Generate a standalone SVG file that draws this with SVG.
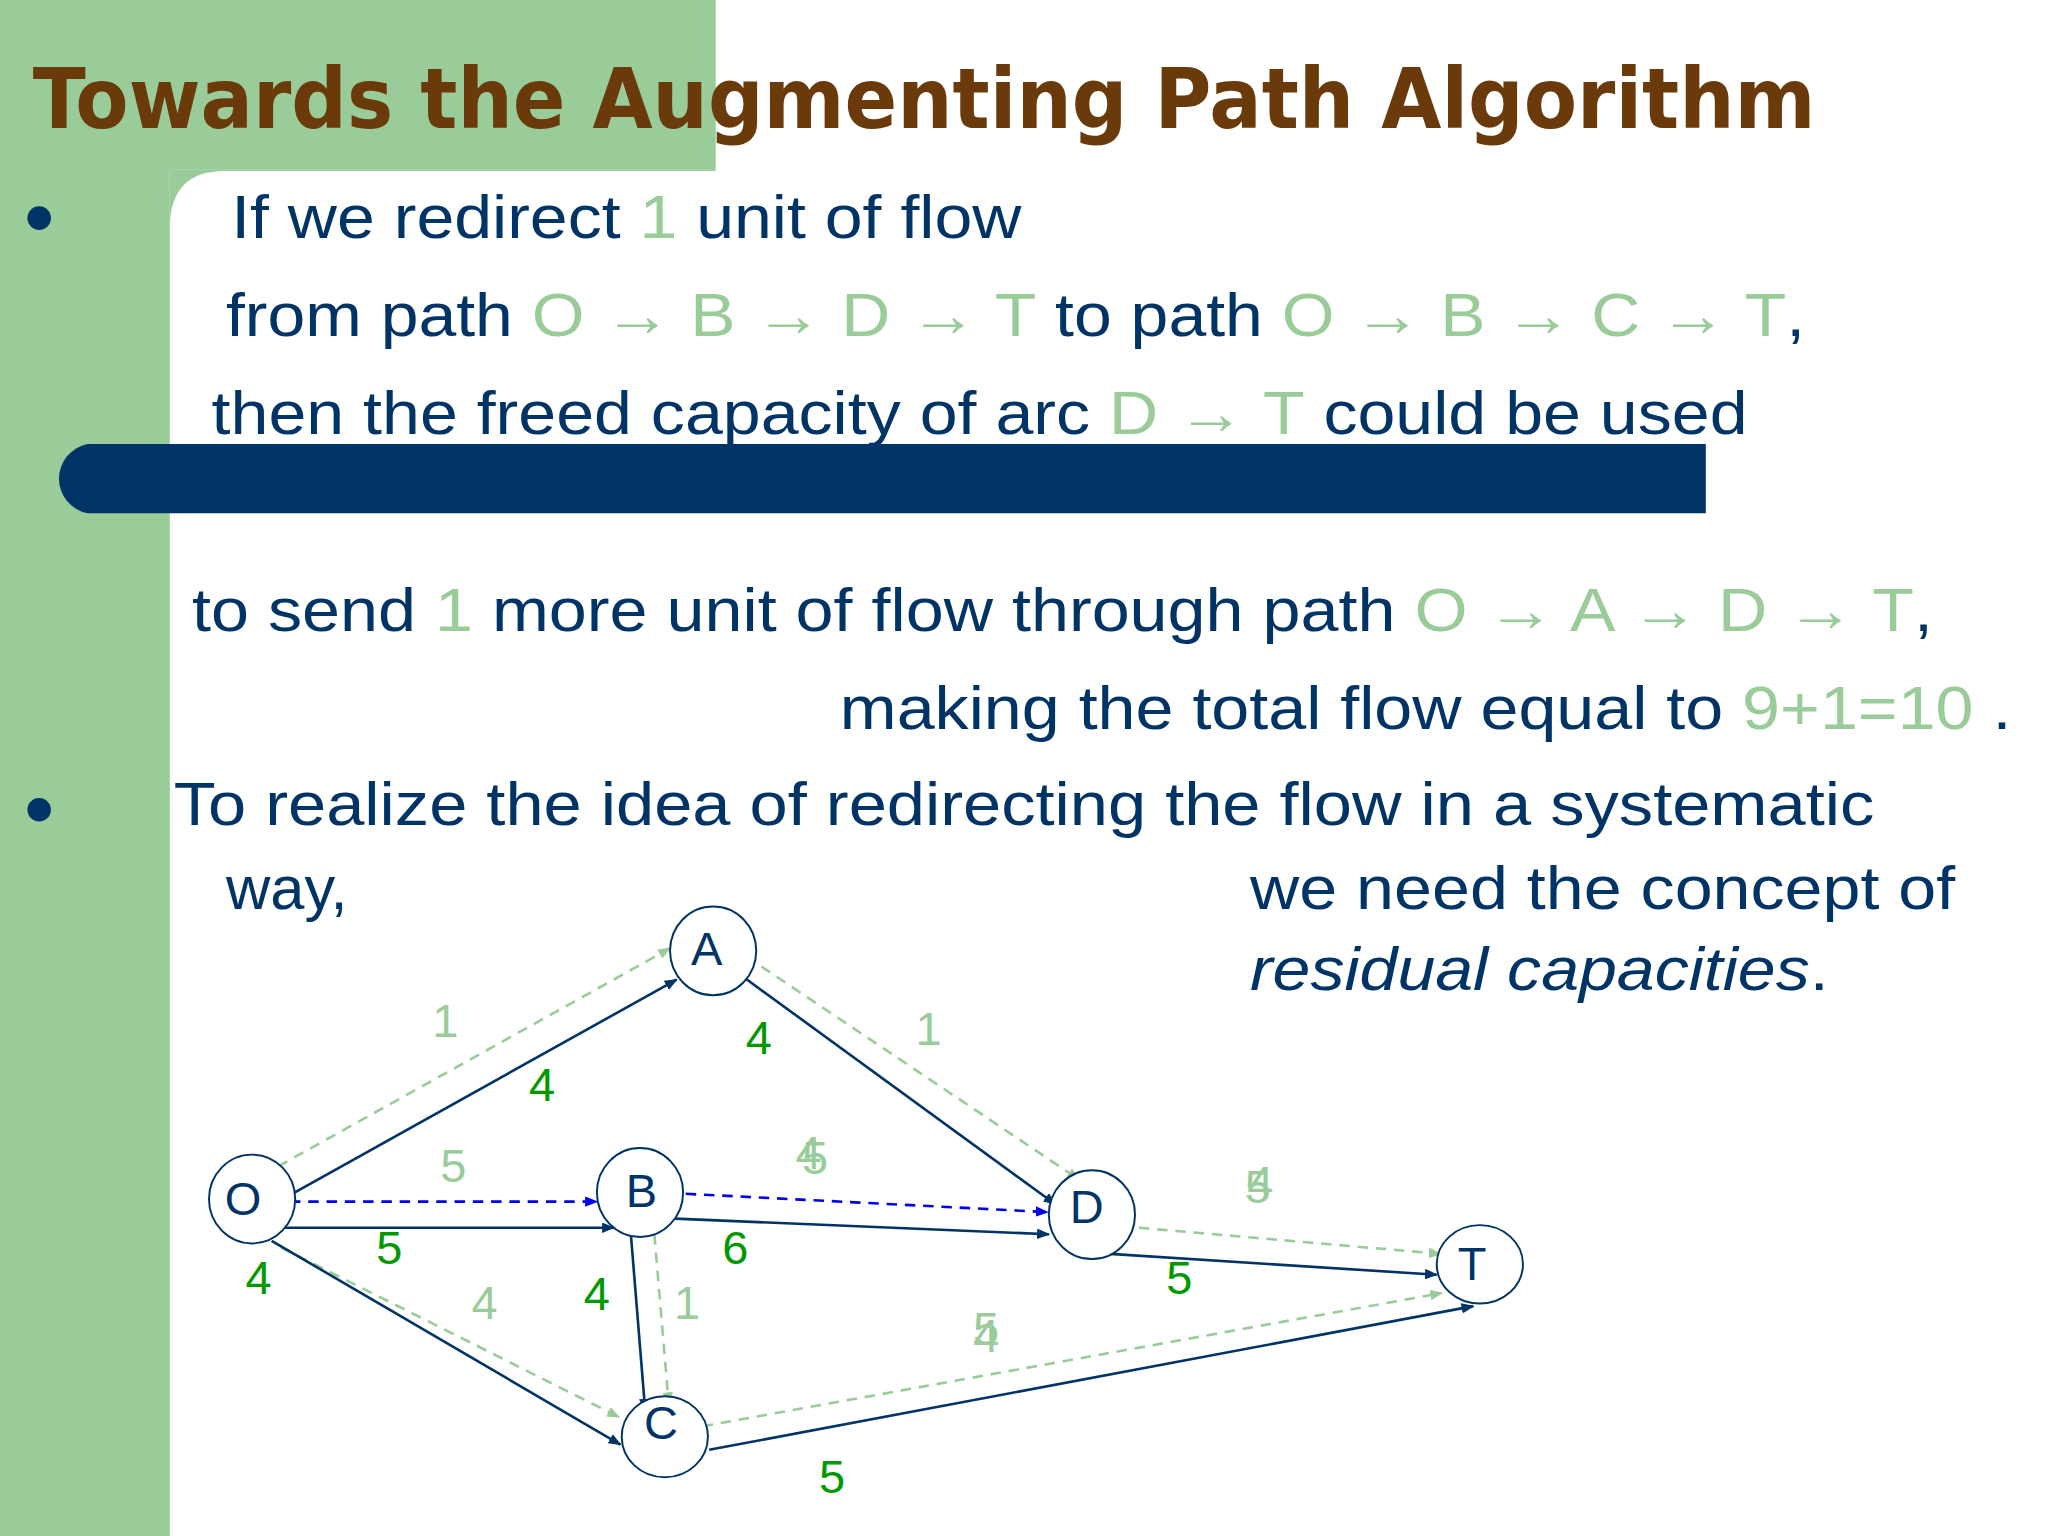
<svg xmlns="http://www.w3.org/2000/svg" width="2048" height="1536" viewBox="0 0 2048 1536">
<style>
.t{font-family:"Liberation Sans",Arial,sans-serif;font-size:47px;fill:#003366}
.g{fill:#99CC99}
.nl{font-family:"Liberation Sans",Arial,sans-serif;font-size:36px;fill:#003366;text-anchor:middle}
.dl{font-family:"Liberation Sans",Arial,sans-serif;font-size:36px;fill:#009900;text-anchor:middle}
.ll{font-family:"Liberation Sans",Arial,sans-serif;font-size:36px;fill:#99CC99;text-anchor:middle}
.s{stroke:#003366;stroke-width:2;fill:none;marker-end:url(#an)}
.gd{stroke:#99CC99;stroke-width:2;stroke-dasharray:8,6;fill:none;marker-end:url(#ag)}
.bd{stroke:#0000EE;stroke-width:2;stroke-dasharray:8,6;fill:none;marker-end:url(#ab)}
.n{fill:#fff;stroke:#003366;stroke-width:1.5}
</style>
<defs>
<marker id="an" markerWidth="10" markerHeight="8" refX="9" refY="4" orient="auto" markerUnits="userSpaceOnUse"><path d="M0,0L10,4L0,8z" fill="#003366"/></marker>
<marker id="ag" markerWidth="10" markerHeight="8" refX="9" refY="4" orient="auto" markerUnits="userSpaceOnUse"><path d="M0,0L10,4L0,8z" fill="#99CC99"/></marker>
<marker id="ab" markerWidth="10" markerHeight="8" refX="9" refY="4" orient="auto" markerUnits="userSpaceOnUse"><path d="M0,0L10,4L0,8z" fill="#0000EE"/></marker>
</defs>
<rect width="2048" height="1536" fill="#fff"/>
<g transform="scale(1.30612)">
<rect x="0" y="0" width="130" height="1176" fill="#99CC99"/>
<rect x="0" y="0" width="548" height="130" fill="#99CC99"/>
<path d="M130,130 H548 V131 H172 Q130,131 130,175 Z" fill="#99CC99"/>
<text x="25" y="98" font-family="'DejaVu Sans',sans-serif" font-weight="bold" font-size="64" fill="#6B3A0A" textLength="1365" lengthAdjust="spacingAndGlyphs">Towards the Augmenting Path Algorithm</text>
<circle cx="30" cy="167" r="9" fill="#003366"/>
<circle cx="30" cy="620" r="9" fill="#003366"/>
<text class="t" x="177" y="182" textLength="605" lengthAdjust="spacingAndGlyphs">If we redirect <tspan class="g">1</tspan> unit of flow</text>
<text class="t" x="173" y="257" textLength="1209" lengthAdjust="spacingAndGlyphs">from path <tspan class="g">O → B → D → T</tspan> to path <tspan class="g">O → B → C → T</tspan>,</text>
<text class="t" x="162" y="332" textLength="1176" lengthAdjust="spacingAndGlyphs">then the freed capacity of arc <tspan class="g">D → T</tspan> could be used</text>
<path d="M67,340 H1306 V393 H67 A27,27 0 0 1 67,340 Z" fill="#003366"/>
<text class="t" x="147" y="483" textLength="1333" lengthAdjust="spacingAndGlyphs">to send <tspan class="g">1</tspan> more unit of flow through path <tspan class="g">O → A → D → T</tspan>,</text>
<text class="t" x="643" y="558" textLength="897" lengthAdjust="spacingAndGlyphs">making the total flow equal to <tspan class="g">9+1=10</tspan> .</text>
<text class="t" x="133" y="632" textLength="1302" lengthAdjust="spacingAndGlyphs">To realize the idea of redirecting the flow in a systematic</text>
<text class="t" x="173" y="696">way,</text>
<text class="t" x="957" y="696" textLength="540" lengthAdjust="spacingAndGlyphs">we need the concept of</text>
<text class="t" x="957" y="758" textLength="443" lengthAdjust="spacingAndGlyphs"><tspan font-style="italic">residual capacities</tspan>.</text>
<g id="connectors">
<line class="gd" x1="213" y1="893" x2="513" y2="726"/>
<line class="gd" x1="583" y1="740" x2="826" y2="903"/>
<line class="gd" x1="872" y1="940" x2="1103" y2="960"/>
<line class="gd" x1="215" y1="955" x2="474" y2="1085"/>
<line class="gd" x1="501" y1="945" x2="512" y2="1075"/>
<line class="gd" x1="538" y1="1092" x2="1104" y2="990"/>
<line class="s" x1="222" y1="915" x2="518" y2="750"/>
<line class="s" x1="565" y1="745" x2="808" y2="922"/>
<line class="s" x1="218" y1="940" x2="470" y2="940"/>
<line class="s" x1="517" y1="933" x2="803" y2="945"/>
<line class="s" x1="850" y1="960" x2="1100" y2="976"/>
<line class="s" x1="208" y1="950" x2="475" y2="1106"/>
<line class="s" x1="483" y1="945" x2="494" y2="1080"/>
<line class="s" x1="543" y1="1110" x2="1128" y2="1000"/>
<line class="bd" x1="222" y1="920" x2="457" y2="920"/>
<line class="bd" x1="525" y1="914" x2="802" y2="928"/>
</g>
<g id="O"><ellipse class="n" cx="193" cy="918" rx="33" ry="34"/><text class="nl" x="186" y="930">O</text></g>
<g id="A"><ellipse class="n" cx="546" cy="728" rx="33" ry="34"/><text class="nl" x="541" y="739">A</text></g>
<g id="B"><ellipse class="n" cx="490" cy="913" rx="33" ry="34"/><text class="nl" x="491" y="924">B</text></g>
<g id="D"><ellipse class="n" cx="836" cy="930" rx="33" ry="34"/><text class="nl" x="832" y="936">D</text></g>
<g id="T"><ellipse class="n" cx="1133" cy="968" rx="33" ry="30"/><text class="nl" x="1127" y="980">T</text></g>
<g id="C"><ellipse class="n" cx="509" cy="1100" rx="33" ry="31"/><text class="nl" x="506" y="1102">C</text></g>
<g id="labels">
<text class="dl" x="415" y="843">4</text>
<text class="dl" x="581" y="807">4</text>
<text class="dl" x="298" y="968">5</text>
<text class="dl" x="563" y="968">6</text>
<text class="dl" x="903" y="991">5</text>
<text class="dl" x="198" y="991">4</text>
<text class="dl" x="457" y="1003">4</text>
<text class="dl" x="637" y="1143">5</text>
<text class="ll" x="341" y="794">1</text>
<text class="ll" x="711" y="800">1</text>
<text class="ll" x="347" y="905">5</text>
<text class="ll" x="619" y="895">4</text>
<text class="ll" x="624" y="899">5</text>
<text class="ll" x="963" y="921">5</text>
<text class="ll" x="965" y="918">4</text>
<text class="ll" x="371" y="1010">4</text>
<text class="ll" x="526" y="1010">1</text>
<text class="ll" x="755" y="1030">5</text>
<text class="ll" x="755" y="1035">4</text>
</g>
</g>
</svg>
